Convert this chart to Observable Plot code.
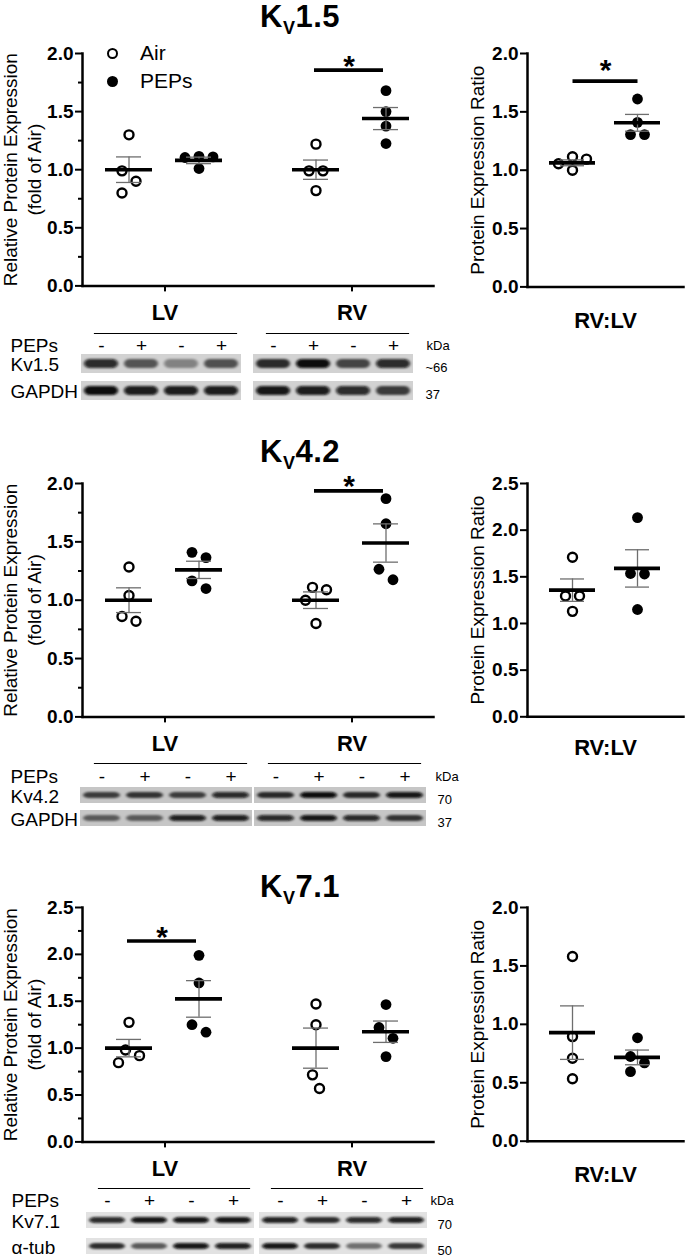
<!DOCTYPE html>
<html><head><meta charset="utf-8">
<script src="https://cdn.jsdelivr.net/npm/d3@7"></script>
<script src="https://cdn.jsdelivr.net/npm/@observablehq/plot@0.6"></script>
<style>
body{margin:0;background:#fff;font-family:"Liberation Sans",Arial,sans-serif;}
#fig{position:relative;width:685px;height:1258px;overflow:hidden;background:#fff;}
.title{position:absolute;font-weight:bold;font-size:31px;line-height:31px;text-align:center;width:300px;left:150px;white-space:nowrap;letter-spacing:0.5px;}
.title .sub{font-size:18px;position:relative;top:7px;}
.leg{position:absolute;font-size:21px;line-height:21px;}
</style></head><body><div id="fig"></div>
<script>
// ---------------- data ----------------
const regions = ["LV", "RV"];
const groups = ["Air", "PEPs"];
const lanes = ["1", "2", "3", "4"];
const laneSigns = ["-", "+", "-", "+"];
const channelNames = ["1.5", "4.2", "7.1"];

// Kv1.5
const kv15_LV_Air = [1.30, 0.99, 0.90, 0.80];
const kv15_LV_PEPs = [1.11, 1.01, 1.105, 1.115];
const kv15_RV_Air = [1.22, 0.99, 0.99, 0.82];
const kv15_RV_PEPs = [1.68, 1.50, 1.375, 1.225];
const kv15_mean = [1.00, 1.08, 1.00, 1.44];   // LV Air, LV PEPs, RV Air, RV PEPs
const kv15_sem = [0.11, 0.028, 0.083, 0.095];
const kv15_ratio_Air = [1.095, 1.115, 1.055, 1.00];
const kv15_ratio_PEPs = [1.61, 1.41, 1.305, 1.305];
const kv15_ratio_mean = [1.063, 1.406];
const kv15_ratio_sem = [0.025, 0.072];
const kv15_sigRegion = ["RV"];
const kv15_sigLevel = [1.857];
const kv15_ratio_sigLevel = [1.763];
const kv15_blotRows = ["Kv1.5", "GAPDH"];
const kv15_kDa = ["~66", "37"];
const kv15_bandTarget = [0.85, 0.6, 0.38, 0.62, 0.8, 1.0, 0.68, 0.85];
const kv15_bandLoading = [1.0, 0.92, 0.92, 0.92, 0.95, 0.92, 0.85, 0.72];

// Kv4.2
const kv42_LV_Air = [1.285, 1.04, 0.86, 0.82];
const kv42_LV_PEPs = [1.41, 1.365, 1.165, 1.10];
const kv42_RV_Air = [1.09, 1.11, 1.00, 0.80];
const kv42_RV_PEPs = [1.87, 1.655, 1.265, 1.175];
const kv42_mean = [1.00, 1.26, 1.00, 1.49];
const kv42_sem = [0.106, 0.074, 0.071, 0.164];
const kv42_ratio_Air = [1.71, 1.295, 1.295, 1.13];
const kv42_ratio_PEPs = [2.135, 1.535, 1.53, 1.15];
const kv42_ratio_mean = [1.357, 1.59];
const kv42_ratio_sem = [0.12, 0.20];
const kv42_sigRegion = ["RV"];
const kv42_sigLevel = [1.937];
const kv42_blotRows = ["Kv4.2", "GAPDH"];
const kv42_kDa = ["70", "37"];
const kv42_bandTarget = [0.7, 0.75, 0.7, 0.85, 0.8, 1.0, 0.8, 0.95];
const kv42_bandLoading = [0.55, 0.55, 0.9, 0.9, 0.85, 0.95, 0.85, 0.75];

// Kv7.1
const kv71_LV_Air = [1.275, 0.98, 0.92, 0.845];
const kv71_LV_PEPs = [1.99, 1.695, 1.25, 1.17];
const kv71_RV_Air = [1.47, 1.25, 0.715, 0.57];
const kv71_RV_PEPs = [1.465, 1.22, 1.105, 0.91];
const kv71_mean = [1.00, 1.525, 1.00, 1.175];
const kv71_sem = [0.093, 0.195, 0.214, 0.114];
const kv71_ratio_Air = [1.58, 0.895, 0.71, 0.535];
const kv71_ratio_PEPs = [0.885, 0.725, 0.67, 0.595];
const kv71_ratio_mean = [0.929, 0.717];
const kv71_ratio_sem = [0.229, 0.063];
const kv71_sigRegion = ["LV"];
const kv71_sigLevel = [2.143];
const kv71_blotRows = ["Kv7.1", "\u03b1-tub"];
const kv71_kDa = ["70", "50"];
const kv71_bandTarget = [0.85, 0.95, 0.95, 0.95, 0.9, 0.8, 0.85, 0.9];
const kv71_bandLoading = [0.8, 0.6, 0.95, 0.9, 0.95, 0.8, 0.5, 0.75];

const ticks20 = [0, 0.5, 1, 1.5, 2];
const ticks25 = [0, 0.5, 1, 1.5, 2, 2.5];
const minor20 = [0.25, 0.75, 1.25, 1.75];
const minor25 = [0.25, 0.75, 1.25, 1.75, 2.25];

// ---------------- helpers ----------------
const FONT = '"Liberation Sans", Arial, sans-serif';
const fig = document.getElementById("fig");
function place(el, left, top) { el.style.position = "absolute"; el.style.left = left + "px"; el.style.top = top + "px"; fig.appendChild(el); }

// GraphPad-like horizontal spreading of points close in value
function dodgeOffsets(vals, k, D = 14, step = 7) {
  const n = vals.length, off = new Array(n).fill(0), y = vals.map(v => v * k);
  const order = d3.range(n).sort((a, b) => vals[b] - vals[a]);
  const done = [];
  const cands = [0, step, -step, 2 * step, -2 * step, 3 * step, -3 * step];
  for (const i of order) {
    for (const c of cands) {
      if (done.every(j => Math.hypot(y[j] - y[i], off[j] - c) >= D)) { off[i] = c; break; }
    }
    done.push(i);
  }
  let cluster = [order[0]];
  const flush = () => { const m = (d3.min(cluster, j => off[j]) + d3.max(cluster, j => off[j])) / 2; cluster.forEach(j => off[j] -= m); };
  for (let t = 1; t < n; t++) {
    const a = order[t - 1], b = order[t];
    if (y[a] - y[b] < D) cluster.push(b); else { flush(); cluster = [b]; }
  }
  flush();
  return off;
}

function pointMarks(vals, xVal, baseDx, open, k) {
  const offs = dodgeOffsets(vals, k);
  return vals.map((v, i) => Plot.dot([{x: xVal, y: v}], {
    x: "x", y: "y", dx: baseDx + offs[i],
    r: open ? 4.5 : 5.4, fill: open ? "white" : "black",
    stroke: "black", strokeWidth: open ? 2.4 : 0
  }));
}

function summaryMarks(xVal, mean, sem, dx) {
  const d = [{x: xVal, m: mean, lo: mean - sem, hi: mean + sem}];
  const semColor = "#6e6e6e";
  return [
    Plot.ruleX(d, {x: "x", y1: "lo", y2: "hi", dx, stroke: semColor, strokeWidth: 1.3}),
    Plot.tickY(d, {x: "x", y: "lo", dx, stroke: semColor, strokeWidth: 1.3, insetLeft: 11, insetRight: 11}),
    Plot.tickY(d, {x: "x", y: "hi", dx, stroke: semColor, strokeWidth: 1.3, insetLeft: 11, insetRight: 11}),
    Plot.tickY(d, {x: "x", y: "m", dx, stroke: "black", strokeWidth: 3.6})
  ];
}

const DX_AIR = -36, DX_PEPS = 34;
const tickFont = {fontSize: 19, fontWeight: "bold"};

function leftChart(cfg) {
  const marginTop = 30, marginBottom = 45;
  const top = cfg.yTop - marginTop;
  const height = cfg.y0 - top + marginBottom;
  const k = (cfg.y0 - cfg.yTop) / cfg.ymax;
  const marks = [
    Plot.text(["Relative Protein Expression\n(fold of Air)"], {frameAnchor: "left", textAnchor: "middle", lineAnchor: "middle", rotate: -90, dx: -61, fontSize: 19, lineHeight: 1.26}),
    Plot.axisY({ticks: cfg.minor, tickSize: 4, tickFormat: () => "", strokeWidth: 2, label: null}),
    Plot.axisY({ticks: cfg.major, tickSize: 7, tickPadding: 2, tickFormat: d => d.toFixed(1), strokeWidth: 2, ...tickFont, label: null}),
    Plot.axisX({tickSize: 6, tickPadding: 12, strokeWidth: 2, fontSize: 22, fontWeight: "bold", label: null}),
    Plot.frame({anchor: "left", strokeWidth: 2.5}),
    Plot.frame({anchor: "bottom", strokeWidth: 2.5})
  ];
  regions.forEach((r, ri) => {
    marks.push(...pointMarks(cfg.pts[ri * 2], r, DX_AIR, true, k));
    marks.push(...pointMarks(cfg.pts[ri * 2 + 1], r, DX_PEPS, false, k));
  });
  regions.forEach((r, ri) => {
    marks.push(...summaryMarks(r, cfg.mean[ri * 2], cfg.sem[ri * 2], DX_AIR));
    marks.push(...summaryMarks(r, cfg.mean[ri * 2 + 1], cfg.sem[ri * 2 + 1], DX_PEPS));
  });
  const sig = cfg.sigRegion.map((r, i) => ({x: r, y: cfg.sigLevel[i]}));
  marks.push(Plot.tickY(sig, {x: "x", y: "y", dx: -3, insetLeft: -11, insetRight: -11, strokeWidth: 3.6}));
  marks.push(Plot.text(sig, {x: "x", y: "y", text: () => "*", dx: -3, dy: -4, fontSize: 30, fontWeight: "bold"}));
  const p = Plot.plot({
    width: 440, height, marginLeft: 82, marginRight: 7, marginTop, marginBottom,
    style: {fontFamily: FONT, color: "black", background: "transparent", overflow: "visible"},
    x: {type: "band", domain: regions, paddingInner: 0.75, paddingOuter: 0.31, label: null},
    y: {domain: [0, cfg.ymax], label: null},
    marks
  });
  place(p, 0, top);
}

function rightChart(cfg) {
  const marginTop = 30, marginBottom = 52;
  const top = cfg.yTop - marginTop;
  const height = cfg.y0 - top + marginBottom;
  const k = (cfg.y0 - cfg.yTop) / cfg.ymax;
  const marks = [
    Plot.text(["Protein Expression Ratio"], {frameAnchor: "left", textAnchor: "middle", lineAnchor: "middle", rotate: -90, dx: -50, fontSize: 19}),
    Plot.axisY({ticks: cfg.major, tickSize: 7, tickPadding: 2, tickFormat: d => d.toFixed(1), strokeWidth: 2, ...tickFont, label: null}),
    Plot.frame({anchor: "left", strokeWidth: 2.5}),
    Plot.frame({anchor: "bottom", strokeWidth: 2.5}),
    Plot.text(["RV:LV"], {frameAnchor: "bottom", lineAnchor: "middle", dy: cfg.labelDy, fontSize: 22, fontWeight: "bold"}),
    ...pointMarks(cfg.pts[0], groups[0], 0, true, k),
    ...pointMarks(cfg.pts[1], groups[1], 0, false, k),
    ...summaryMarks(groups[0], cfg.mean[0], cfg.sem[0], 0),
    ...summaryMarks(groups[1], cfg.mean[1], cfg.sem[1], 0)
  ];
  if (cfg.sigLevel) {
    const s = cfg.sigLevel.map(v => ({a: groups[0], b: groups[1], y: v}));
    marks.push(Plot.link(s, {x1: "a", x2: "b", y1: "y", y2: "y", strokeWidth: 3.6}));
    marks.push(Plot.text(s, {x: "a", y: "y", text: () => "*", dx: 33, dy: -11, fontSize: 30, fontWeight: "bold"}));
  }
  const p = Plot.plot({
    width: 245, height, marginLeft: 87, marginRight: 2, marginTop, marginBottom,
    style: {fontFamily: FONT, color: "black", background: "transparent", overflow: "visible"},
    x: {type: "band", domain: groups, paddingInner: 0.29, paddingOuter: 0.33, axis: null, label: null},
    y: {domain: [0, cfg.ymax], label: null},
    marks
  });
  place(p, 440, top);
}

function blot(cfg, idx) {
  const marginTop = 36, marginBottom = 4;
  const H = cfg.bottom - cfg.frameTop;
  const height = marginTop + H + marginBottom;
  const bands = [];
  regions.forEach((r, ri) => lanes.forEach((l, li) => {
    bands.push({region: r, lane: l, row: cfg.rows[0], v: cfg.target[ri * 4 + li]});
    bands.push({region: r, lane: l, row: cfg.rows[1], v: cfg.loading[ri * 4 + li]});
  }));
  const signs = regions.flatMap(r => lanes.map((l, li) => ({region: r, lane: l, s: laneSigns[li]})));
  const kd = cfg.rows.map((r, i) => ({r, k: cfg.kda[i]}));
  const p = Plot.plot({
    width: 685, height, marginLeft: cfg.left, marginRight: 685 - cfg.right, marginTop, marginBottom,
    style: {fontFamily: FONT, color: "black", background: "transparent", overflow: "visible"},
    fx: {domain: regions, paddingInner: cfg.gapFrac, paddingOuter: 0, axis: null, label: null},
    x: {domain: lanes, padding: 0, axis: null, label: null},
    y: {domain: cfg.rows, paddingInner: cfg.rowPad, paddingOuter: 0, axis: null, label: null},
    opacity: {domain: [0, 1], range: [0.12, 0.95]},
    marks: [
      Plot.frame({anchor: "top", dy: cfg.lineDy, insetLeft: 14, insetRight: 6, strokeWidth: 1.2}),
      Plot.text(signs, {x: "lane", fx: "region", text: "s", frameAnchor: "top", lineAnchor: "middle", dy: cfg.signDy, fontSize: 19}),
      Plot.text([groups[1]], {fx: () => "LV", frameAnchor: "top-left", lineAnchor: "middle", textAnchor: "start", dx: 10 - cfg.left, dy: cfg.signDy, fontSize: 19}),
      Plot.text(["kDa"], {fx: () => "RV", frameAnchor: "top-right", lineAnchor: "middle", textAnchor: "start", dx: cfg.kdaDx, dy: cfg.signDy, fontSize: 13}),
      Plot.cell(bands, {x: "lane", y: "row", fx: "region", fill: cfg.bg}),
      Plot.cell(bands, {x: "lane", y: "row", fx: "region", fill: "#080808", fillOpacity: "v", insetLeft: 3, insetRight: 3, insetTop: 5, insetBottom: 5, rx: 6}),
      Plot.text(cfg.rows, {y: d => d, fx: () => "LV", text: d => d, frameAnchor: "left", lineAnchor: "middle", textAnchor: "start", dx: 10 - cfg.left, dy: 1, fontSize: 19}),
      Plot.text(kd, {y: "r", fx: () => "RV", text: "k", frameAnchor: "right", lineAnchor: "middle", textAnchor: "start", dx: cfg.numDx, dy: 4, fontSize: 13})
    ]
  });
  const svg = d3.select(p);
  const fid = "blur" + idx;
  svg.insert("defs", ":first-child").html(`<filter id="${fid}" x="-10%" y="-60%" width="120%" height="220%"><feGaussianBlur stdDeviation="1.8 1.3"/></filter>`);
  svg.selectAll("g[aria-label='cell']").filter((d, i) => i === 1).attr("filter", `url(#${fid})`);
  place(p, 0, cfg.frameTop - marginTop);
}

function title(name, baseline) {
  // line-height 31px, Liberation Sans: baseline ≈ top + 26.4
  const d = document.createElement("div");
  d.className = "title";
  d.innerHTML = `K<span class="sub">V</span>${name}`;
  d.style.top = Math.max(1, baseline - 26.4) + "px";
  fig.appendChild(d);
}

// ---------------- build ----------------
title(channelNames[0], 27.5);
title(channelNames[1], 462);
title(channelNames[2], 897);

leftChart({yTop: 53.3, y0: 285.7, ymax: 2, major: ticks20, minor: minor20,
  pts: [kv15_LV_Air, kv15_LV_PEPs, kv15_RV_Air, kv15_RV_PEPs], mean: kv15_mean, sem: kv15_sem,
  sigRegion: kv15_sigRegion, sigLevel: kv15_sigLevel});
leftChart({yTop: 483.3, y0: 716.7, ymax: 2, major: ticks20, minor: minor20,
  pts: [kv42_LV_Air, kv42_LV_PEPs, kv42_RV_Air, kv42_RV_PEPs], mean: kv42_mean, sem: kv42_sem,
  sigRegion: kv42_sigRegion, sigLevel: kv42_sigLevel});
leftChart({yTop: 907.3, y0: 1141.7, ymax: 2.5, major: ticks25, minor: minor25,
  pts: [kv71_LV_Air, kv71_LV_PEPs, kv71_RV_Air, kv71_RV_PEPs], mean: kv71_mean, sem: kv71_sem,
  sigRegion: kv71_sigRegion, sigLevel: kv71_sigLevel});

rightChart({yTop: 53.3, y0: 286.7, ymax: 2, major: ticks20, labelDy: 34,
  pts: [kv15_ratio_Air, kv15_ratio_PEPs], mean: kv15_ratio_mean, sem: kv15_ratio_sem, sigLevel: kv15_ratio_sigLevel});
rightChart({yTop: 482.7, y0: 716, ymax: 2.5, major: ticks25, labelDy: 31,
  pts: [kv42_ratio_Air, kv42_ratio_PEPs], mean: kv42_ratio_mean, sem: kv42_ratio_sem});
rightChart({yTop: 907.3, y0: 1141, ymax: 2, major: ticks20, labelDy: 34,
  pts: [kv71_ratio_Air, kv71_ratio_PEPs], mean: kv71_ratio_mean, sem: kv71_ratio_sem});

blot({frameTop: 353, bottom: 400, left: 80, right: 415, gapFrac: 0.058, rowPad: 0.3, lineDy: -20, signDy: -8,
  kdaDx: 12, numDx: 11, bg: "#d2d2d2", rows: kv15_blotRows, kda: kv15_kDa, target: kv15_bandTarget, loading: kv15_bandLoading}, 1);
blot({frameTop: 786, bottom: 827, left: 80, right: 426, gapFrac: 0.0115, rowPad: 0.29, lineDy: -23, signDy: -10,
  kdaDx: 9, numDx: 11, bg: "#c6c6c6", rows: kv42_blotRows, kda: kv42_kDa, target: kv42_bandTarget, loading: kv42_bandLoading}, 2);
blot({frameTop: 1212, bottom: 1255, left: 83, right: 428, gapFrac: 0.0116, rowPad: 0.38, lineDy: -24, signDy: -12,
  kdaDx: 2, numDx: 9, bg: "#e2e2e2", rows: kv71_blotRows, kda: kv71_kDa, target: kv71_bandTarget, loading: kv71_bandLoading}, 3);

// legend (symbols + group names)
groups.forEach((g, i) => {
  const c = document.createElement("div");
  c.style.cssText = `width:11px;height:11px;border-radius:50%;box-sizing:border-box;` +
    (i === 0 ? "border:2.4px solid #000;background:#fff;" : "background:#000;");
  place(c, 106.5, 47.5 + i * 28);
  const t = document.createElement("div");
  t.className = "leg";
  t.textContent = g;
  place(t, 140, 42 + i * 28);
});
</script>
</body></html>
